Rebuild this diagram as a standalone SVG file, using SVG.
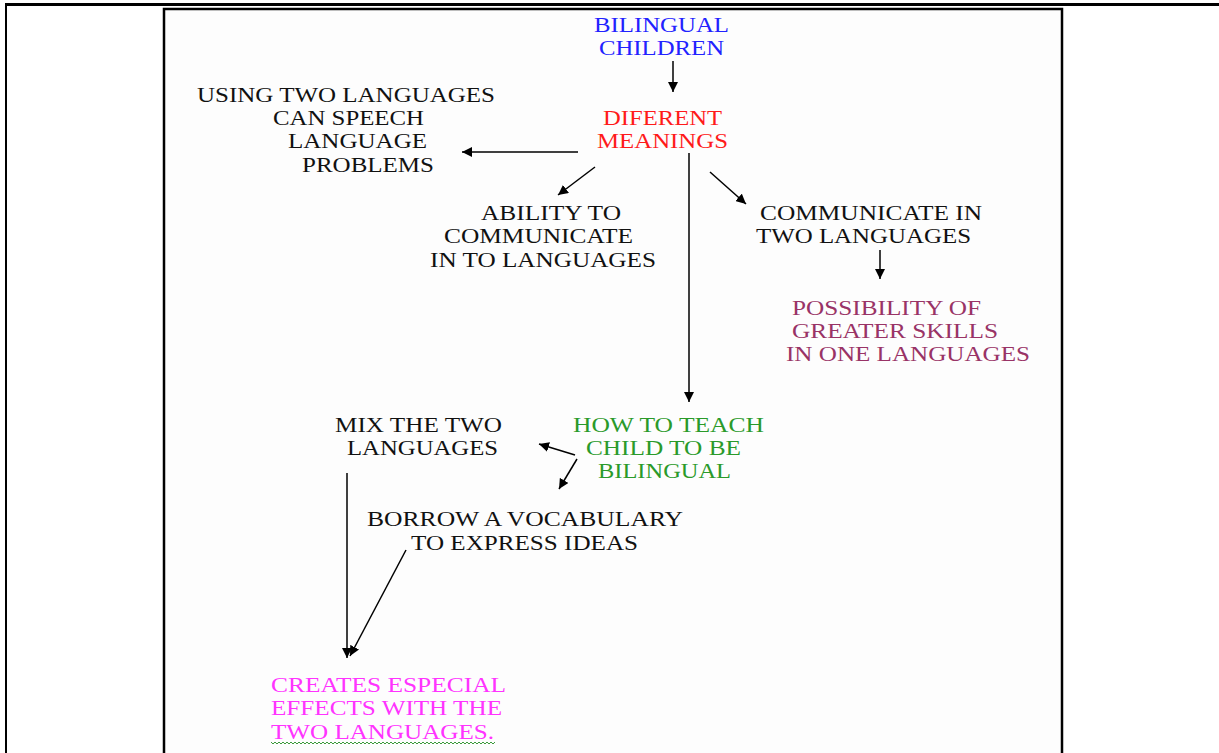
<svg xmlns="http://www.w3.org/2000/svg" width="1219" height="753" viewBox="0 0 1219 753">
  <defs>
    <marker id="head" viewBox="0 0 10 10" refX="10" refY="5" markerWidth="10" markerHeight="10" markerUnits="userSpaceOnUse" orient="auto">
      <path d="M0,0 L10,5 L0,10 Z" fill="#000"/>
    </marker>
    <style>
      text { font-family: "Liberation Serif", "Times New Roman", serif; font-size: 20px; }
      .ink { fill: #111; }
      .blue { fill: #2222ff; }
      .red { fill: #ff1a1a; }
      .plum { fill: #993366; }
      .green { fill: #2a9a2a; }
      .pink { fill: #ff33ff; }
      .conn line { stroke: #000; stroke-width: 1.5; fill: none; marker-end: url(#head); }
    </style>
  </defs>

  <rect width="1219" height="753" fill="#fff"/>
  <!-- page frame -->
  <rect x="5" y="3" width="1214" height="3" fill="#000"/>
  <rect x="5" y="3" width="2" height="750" fill="#000"/>
  <rect x="164" y="9" width="898" height="760" fill="#fdfdfd" stroke="#000" stroke-width="2.5"/>

  <g class="conn">
    <line x1="673" y1="61" x2="673" y2="92"/>
    <line x1="578" y1="152" x2="462" y2="152"/>
    <line x1="595" y1="167" x2="558" y2="195"/>
    <line x1="689" y1="153" x2="689" y2="402"/>
    <line x1="710" y1="172" x2="746" y2="204"/>
    <line x1="880" y1="250" x2="880" y2="279"/>
    <line x1="575" y1="455" x2="539" y2="444"/>
    <line x1="577" y1="459" x2="559" y2="489"/>
    <line x1="347" y1="473" x2="347" y2="658"/>
    <line x1="406" y1="550" x2="350" y2="656"/>
  </g>

  <g id="bilingual-children" class="blue">
    <text x="594" y="32" textLength="135" lengthAdjust="spacingAndGlyphs">BILINGUAL</text>
    <text x="599" y="55" textLength="125" lengthAdjust="spacingAndGlyphs">CHILDREN</text>
  </g>
  <g id="different-meanings" class="red">
    <text x="603" y="125" textLength="119" lengthAdjust="spacingAndGlyphs">DIFERENT</text>
    <text x="597" y="148" textLength="131" lengthAdjust="spacingAndGlyphs">MEANINGS</text>
  </g>
  <g id="speech-problems" class="ink">
    <text x="197" y="102" textLength="298" lengthAdjust="spacingAndGlyphs">USING TWO LANGUAGES</text>
    <text x="273" y="125" textLength="151" lengthAdjust="spacingAndGlyphs">CAN SPEECH</text>
    <text x="288" y="148" textLength="139" lengthAdjust="spacingAndGlyphs">LANGUAGE</text>
    <text x="302" y="172" textLength="132" lengthAdjust="spacingAndGlyphs">PROBLEMS</text>
  </g>
  <g id="ability" class="ink">
    <text x="481" y="220" textLength="140" lengthAdjust="spacingAndGlyphs">ABILITY TO</text>
    <text x="444" y="243" textLength="189" lengthAdjust="spacingAndGlyphs">COMMUNICATE</text>
    <text x="430" y="267" textLength="226" lengthAdjust="spacingAndGlyphs">IN TO LANGUAGES</text>
  </g>
  <g id="communicate" class="ink">
    <text x="760" y="220" textLength="222" lengthAdjust="spacingAndGlyphs">COMMUNICATE IN</text>
    <text x="756" y="243" textLength="215" lengthAdjust="spacingAndGlyphs">TWO LANGUAGES</text>
  </g>
  <g id="greater-skills" class="plum">
    <text x="792" y="315" textLength="189" lengthAdjust="spacingAndGlyphs">POSSIBILITY OF</text>
    <text x="792" y="338" textLength="206" lengthAdjust="spacingAndGlyphs">GREATER SKILLS</text>
    <text x="786" y="361" textLength="244" lengthAdjust="spacingAndGlyphs">IN ONE LANGUAGES</text>
  </g>
  <g id="how-to-teach" class="green">
    <text x="573" y="432" textLength="191" lengthAdjust="spacingAndGlyphs">HOW TO TEACH</text>
    <text x="586" y="455" textLength="155" lengthAdjust="spacingAndGlyphs">CHILD TO BE</text>
    <text x="598" y="478" textLength="133" lengthAdjust="spacingAndGlyphs">BILINGUAL</text>
  </g>
  <g id="mix" class="ink">
    <text x="335" y="432" textLength="167" lengthAdjust="spacingAndGlyphs">MIX THE TWO</text>
    <text x="347" y="455" textLength="151" lengthAdjust="spacingAndGlyphs">LANGUAGES</text>
  </g>
  <g id="borrow" class="ink">
    <text x="367" y="526" textLength="316" lengthAdjust="spacingAndGlyphs">BORROW A VOCABULARY</text>
    <text x="411" y="550" textLength="227" lengthAdjust="spacingAndGlyphs">TO EXPRESS IDEAS</text>
  </g>
  <g id="special-effects" class="pink">
    <text x="271" y="692" textLength="235" lengthAdjust="spacingAndGlyphs">CREATES ESPECIAL</text>
    <text x="271" y="715" textLength="231" lengthAdjust="spacingAndGlyphs">EFFECTS WITH THE</text>
    <text x="271" y="739" textLength="223" lengthAdjust="spacingAndGlyphs">TWO LANGUAGES.</text>
    <!-- spelling-check squiggle under the last line -->
    <path d="M271,742
             l2,2 l2,-2 l2,2 l2,-2 l2,2 l2,-2 l2,2 l2,-2 l2,2 l2,-2 l2,2 l2,-2 l2,2 l2,-2 l2,2 l2,-2
             l2,2 l2,-2 l2,2 l2,-2 l2,2 l2,-2 l2,2 l2,-2 l2,2 l2,-2 l2,2 l2,-2 l2,2 l2,-2 l2,2 l2,-2
             l2,2 l2,-2 l2,2 l2,-2 l2,2 l2,-2 l2,2 l2,-2 l2,2 l2,-2 l2,2 l2,-2 l2,2 l2,-2 l2,2 l2,-2
             l2,2 l2,-2 l2,2 l2,-2 l2,2 l2,-2 l2,2 l2,-2 l2,2 l2,-2 l2,2 l2,-2 l2,2 l2,-2 l2,2 l2,-2
             l2,2 l2,-2 l2,2 l2,-2 l2,2 l2,-2 l2,2 l2,-2 l2,2 l2,-2 l2,2 l2,-2 l2,2 l2,-2 l2,2 l2,-2
             l2,2 l2,-2 l2,2 l2,-2 l2,2 l2,-2 l2,2 l2,-2 l2,2 l2,-2 l2,2 l2,-2 l2,2 l2,-2 l2,2 l2,-2
             l2,2 l2,-2 l2,2 l2,-2 l2,2 l2,-2 l2,2 l2,-2 l2,2 l2,-2 l2,2 l2,-2 l2,2 l2,-2 l2,2 l2,-2"
          fill="none" stroke="#3a9a3a" stroke-width="1"/>
  </g>
</svg>
